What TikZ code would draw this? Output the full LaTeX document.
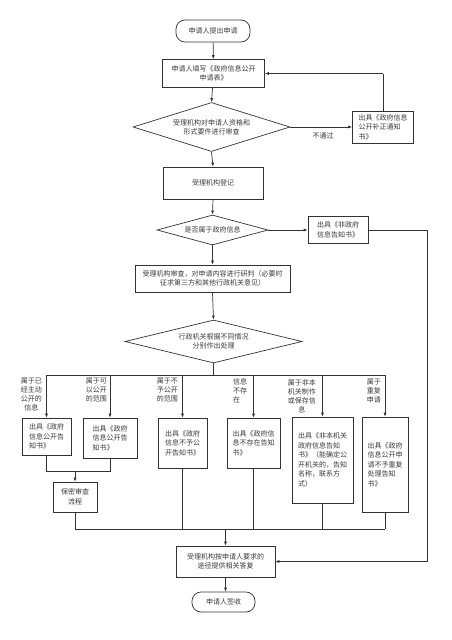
\documentclass[tikz,border=0pt]{standalone}
\usepackage{fontspec}
\newfontfamily\cjk{Noto Sans CJK SC}
\usetikzlibrary{shapes.geometric,arrows.meta}
\definecolor{lc}{HTML}{333333}
\definecolor{tc}{HTML}{3A3A3A}
\begin{document}
\begin{tikzpicture}[x=1pt,y=-1pt,
  ln/.style={draw=lc, line width=0.7pt},
  arr/.style={draw=lc, line width=0.7pt, -{Latex[length=4pt,width=3pt]}},
  box/.style={draw=lc, line width=0.7pt, fill=white, inner sep=1pt, text=tc, font=\cjk\fontsize{7}{9.5}\selectfont},
  term/.style={box, rounded corners=9pt},
  dia/.style={diamond, draw=lc, line width=0.7pt, fill=white, inner sep=0pt},
  lab/.style={text=tc, font=\cjk\fontsize{7}{9}\selectfont, inner sep=0pt, align=center}]
\fill[white] (0,0) rectangle (452,640);
\useasboundingbox (0,0) rectangle (452,640);
% main column
\node[term, minimum width=74, minimum height=22] (start) at (213,31) {申请人提出申请};
\node[box, minimum width=102, minimum height=28, align=center] (b1) at (213.5,73.5) {申请人填写《政府信息公开\\申请表》};
\node[dia, minimum width=157, minimum height=49] (d1) at (211.5,127) {};
\node[lab] (d1t) at (d1.center) {受理机构对申请人资格和\\形式要件进行审查};
\node[box, minimum width=61, minimum height=32, align=left] (fix) at (383,127) {出具《政府信息\\公开补正通知\\书》};
\node[lab] (notpass) at (323,136) {不通过};
\node[box, minimum width=100, minimum height=32] (reg) at (213,183) {受理机构登记};
\node[dia, minimum width=111, minimum height=30] (d2) at (212.5,230) {};
\node[lab] (d2t) at (d2.center) {是否属于政府信息};
\node[box, minimum width=60, minimum height=27, align=left] (nongov) at (338,230) {出具《非政府\\信息告知书》};
\node[box, minimum width=155, minimum height=27, align=center] (review) at (212.5,278.5) {受理机构审查，对申请内容进行研判（必要时\\征求第三方和其他行政机关意见）};
\node[dia, minimum width=177, minimum height=43] (d3) at (213.5,341.5) {};
\node[lab] (d3t) at (d3.center) {行政机关根据不同情况\\分别作出处理};
% result boxes
\node[box, minimum width=49, minimum height=37, align=left] (r1) at (46.5,436.5) {出具《政府\\信息公开告\\知书》};
\node[box, minimum width=54, minimum height=40, align=left] (r2) at (110,438) {出具《政府\\信息公开告\\知书》};
\node[box, minimum width=49, minimum height=50, align=left] (r3) at (182.5,443) {出具《政府\\信息不予公\\开告知书》};
\node[box, minimum width=53, minimum height=50, align=left] (r4) at (253.5,443) {出具《政府信\\息不存在告知\\书》};
\node[box, minimum width=61, minimum height=86, align=left] (r5) at (322.5,460) {出具《非本机关\\政府信息告知\\书》（能确定公\\开机关的，告知\\名称，联系方\\式）};
\node[box, minimum width=46, minimum height=95, align=left] (r6) at (385,464.5) {出具《政府\\信息公开申\\请不予重复\\处理告知\\书》};
\node[box, minimum width=44, minimum height=30, align=center] (secret) at (75,497) {保密审查\\流程};
\node[box, minimum width=99, minimum height=31, align=center] (final) at (225.5,561.5) {受理机构按申请人要求的\\途径提供相关答复};
\node[term, minimum width=63, minimum height=20] (end) at (223.5,602) {申请人签收};
% branch labels
\node[lab, anchor=north east] (l1) at (42,378) {属于已\\经主动\\公开的\\信息};
\node[lab, anchor=north east] (l2) at (107,378) {属于可\\以公开\\的范围};
\node[lab, anchor=north east] (l3) at (178,378) {属于不\\予公开\\的范围};
\node[lab, anchor=north west, align=left] (l4) at (233,378) {信息\\不存\\在};
\node[lab, anchor=north east] (l5) at (316,379) {属于非本\\机关制作\\或保存信\\息};
\node[lab, anchor=north east] (l6) at (381,379) {属于\\重复\\申请};
% coordinates
\coordinate (fb) at (383,73.5);
\coordinate (bus1) at (213.5,375);
\coordinate (bus2) at (75,471);
\coordinate (bus3) at (225.5,529);
\coordinate (rt1) at (427,230);
\coordinate (rt2) at (427,561.5);
% connectors
\draw[arr] (start) -- (b1);
\draw[arr] (b1) -- (d1.north);
\draw[arr] (d1.east) -- (fix.west);
\draw[ln] (fix.north) -- (fb);
\draw[arr] (fb) -- (b1.east);
\draw[arr] (d1.south) -- (reg.north);
\draw[arr] (reg.south) -- (d2.north);
\draw[arr] (d2.east) -- (nongov.west);
\draw[ln] (nongov.east) -- (rt1) -- (rt2);
\draw[arr] (rt2) -- (final.east);
\draw[arr] (d2.south) -- (review.north);
\draw[arr] (review.south) -- (d3.north);
\draw[ln] (d3.south) -- (bus1);
\draw[ln] (r1.north |- bus1) -- (r6.north |- bus1);
\foreach \r in {r1,r2,r3,r4,r5,r6} \draw[arr] (\r.north |- bus1) -- (\r.north);
\draw[ln] (r1.south) -- (r1.south |- bus2) -- (r2.south |- bus2) -- (r2.south);
\draw[arr] (bus2) -- (secret.north);
\draw[ln] (secret.south) -- (secret.south |- bus3) -- (r6.south |- bus3);
\foreach \r in {r3,r4,r5,r6} \draw[ln] (\r.south) -- (\r.south |- bus3);
\draw[arr] (bus3) -- (final.north);
\draw[arr] (final.south) -- (end.north -| final.south);
\end{tikzpicture}
\end{document}
